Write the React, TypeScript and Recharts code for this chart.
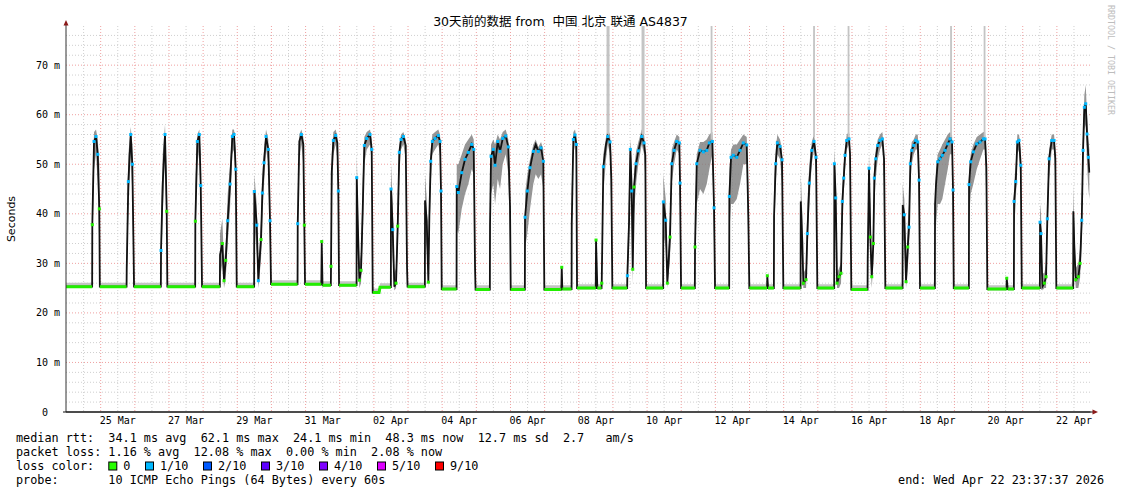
import { Area, CartesianGrid, ComposedChart, Line, Scatter, XAxis, YAxis } from "recharts";

const MONO = "'DejaVu Sans Mono', monospace";
const SANS = "'DejaVu Sans', 'Noto Sans CJK SC', sans-serif";

// x = days since 24 Mar 00:00; graph ends Wed Apr 22 23:37:37
const dayDomain: [number, number] = [-0.0155, 29.9845];

const labelDays = [1.5, 3.5, 5.5, 7.5, 9.5, 11.5, 13.5, 15.5, 17.5, 19.5, 21.5, 23.5, 25.5, 27.5, 29.5];
const dateLabels = [
  "25 Mar", "27 Mar", "29 Mar", "31 Mar", "02 Apr", "04 Apr", "06 Apr", "08 Apr",
  "10 Apr", "12 Apr", "14 Apr", "16 Apr", "18 Apr", "20 Apr", "22 Apr",
];
const rttTicks = [0, 10, 20, 30, 40, 50, 60, 70];

// quiet periods, 0 loss: [from, to, median, smoke low, smoke high] (ms)
const baselineSpans: [number, number, number, number, number][] = [
  [-0.0155, 0.75, 25.3, 25.0, 26.1], [0.975, 1.758, 25.3, 25.0, 26.1],
  [1.977, 2.762, 25.3, 25.0, 26.1], [2.952, 3.767, 25.3, 25.0, 26.1],
  [3.968, 4.49, 25.3, 25.0, 26.1], [4.984, 5.494, 25.3, 25.0, 26.1],
  [5.988, 6.765, 25.8, 25.5, 26.6], [6.984, 7.461, 25.8, 25.5, 26.6],
  [7.496, 7.74, 25.6, 25.3, 26.4], [7.98, 8.493, 25.6, 25.3, 26.4],
  [8.966, 9.151, 24.1, 23.8, 24.9], [9.18, 9.497, 25.2, 24.9, 26.0],
  [9.986, 10.493, 25.3, 25.0, 26.1], [10.987, 11.421, 24.8, 24.5, 25.6],
  [11.977, 12.396, 24.7, 24.4, 25.6], [13.007, 13.421, 24.7, 24.4, 25.6],
  [13.991, 14.489, 24.7, 24.4, 25.6], [14.518, 14.789, 24.8, 24.5, 25.6],
  [14.949, 15.497, 25.0, 24.7, 25.8], [15.543, 15.667, 25.0, 24.7, 25.8],
  [15.983, 16.417, 25.0, 24.7, 25.8], [16.97, 17.471, 25.0, 24.7, 25.8],
  [17.995, 18.399, 25.0, 24.7, 25.8], [18.99, 19.404, 25.0, 24.7, 25.8],
  [19.994, 20.513, 25.0, 24.7, 25.8], [20.542, 20.713, 25.0, 24.7, 25.8],
  [20.99, 21.495, 25.0, 24.7, 25.8], [21.986, 22.479, 25.0, 24.7, 25.8],
  [22.981, 23.456, 24.7, 24.4, 25.6], [23.977, 24.481, 25.0, 24.7, 25.8],
  [24.993, 25.427, 25.0, 24.7, 25.8], [25.98, 26.423, 25.0, 24.7, 25.8],
  [26.964, 27.526, 24.8, 24.5, 25.6], [27.561, 27.741, 24.8, 24.5, 25.6],
  [27.972, 28.502, 25.0, 24.7, 25.8], [28.984, 29.477, 25.0, 24.7, 25.8],
];

// busy periods: [day, median, smoke low, smoke high, loss mark (1 = 1/10, 0 = none, -1 = unmarked)]
const busySamples: [number, number, number, number, number][] = [
  [0.755, 37.8, 33, 44, 0], [0.805, 54.6, 49, 56.5, 1], [0.864, 55.6, 52, 57, 1], [0.914, 52, 46, 55, 1], [0.96, 41, 33, 50, 0],
  [1.763, 29, 27, 33, -1], [1.81, 46.5, 40, 52, 1], [1.88, 56, 52, 57.5, 1], [1.927, 50, 44, 54, 1], [1.962, 33, 28, 40, -1],
  [2.767, 32.6, 28, 40, 1], [2.817, 46, 40, 52, -1], [2.884, 56, 52, 58, 1], [2.934, 40.5, 34, 48, 0],
  [3.772, 38.5, 34, 46, 0], [3.83, 54.6, 50, 56, 1], [3.889, 56, 53, 57, 1], [3.93, 45.7, 40, 52, 1],
  [4.495, 31.7, 27, 36, -1], [4.562, 34, 30, 39, 0], [4.612, 26.5, 25, 30, 0], [4.662, 30.6, 27, 34, 0], [4.72, 38.6, 34, 44, 1],
  [4.788, 46, 41, 50, 1], [4.855, 55.6, 52, 57, 1], [4.905, 56, 53, 57, 1], [4.955, 49, 44, 53, 1],
  [5.499, 44.5, 38, 48, 1], [5.57, 37.7, 32, 42, 1], [5.616, 26.5, 25, 30, 1], [5.646, 30, 27, 33, -1], [5.696, 34.8, 31, 39, 0],
  [5.734, 44.2, 39, 48, 1], [5.783, 50.3, 46, 53, 1], [5.842, 55.6, 53, 57, 1], [5.909, 53, 50, 55, 1], [5.959, 38.6, 33, 45, 1],
  [6.77, 38, 34, 44, 1], [6.817, 54.6, 51, 56, -1], [6.876, 56, 54, 57, 1], [6.934, 54, 50, 55.5, -1], [6.963, 37.7, 32, 44, 0],
  [7.473, 34.4, 29, 37, 0],
  [7.745, 29.4, 27, 33, 0], [7.766, 48.4, 42, 52, -1], [7.813, 54.8, 52, 56.5, 1], [7.883, 55.8, 54, 57, 1], [7.93, 54.3, 51, 55.5, -1], [7.959, 44.6, 38, 50, 1],
  [8.498, 47.3, 40, 52, 1], [8.527, 38.6, 33, 44, -1], [8.574, 26.6, 25, 30, 0], [8.624, 28.6, 26, 32, 0], [8.674, 41, 35, 47, -1],
  [8.72, 53.8, 50, 55.5, 1], [8.791, 55.2, 53, 56.5, 1], [8.887, 56, 54, 57, 1], [8.937, 53, 50, 55, 1],
  [9.502, 45, 38, 50, 1], [9.552, 36.8, 31, 42, 1], [9.599, 25.3, 24.5, 28, -1], [9.649, 26, 25, 29, 0], [9.698, 37.5, 33, 44, 0],
  [9.745, 52.4, 48, 54, 1], [9.795, 55, 53, 56, 1], [9.863, 55.6, 54, 56.5, 1], [9.933, 53.8, 51, 55, -1], [9.971, 29.2, 26, 33, -1],
  [10.498, 42.7, 36, 48, -1], [10.548, 38.6, 33, 43, -1], [10.595, 26.2, 25, 29, 0], [10.624, 39.3, 34, 45, -1], [10.665, 50.6, 46, 53, 1],
  [10.712, 54.6, 52, 56, 1], [10.791, 55.2, 53, 56.5, 1], [10.887, 55.8, 54, 57, 1], [10.937, 54.6, 52, 56, 1], [10.966, 44.6, 38, 50, 1],
  [11.426, 45.5, 37, 50, 1], [11.473, 44.3, 36, 50, 1], [11.573, 48.3, 41, 52, 1], [11.669, 51, 44, 54, 1], [11.766, 52.4, 46, 55, 1],
  [11.866, 54, 49, 56, 1], [11.924, 53, 48, 55, 1], [11.962, 29.3, 26, 40, -1],
  [12.401, 37.8, 32, 45, -1], [12.431, 51.6, 44, 54, 1], [12.498, 53, 46, 55, 1], [12.548, 49.8, 42, 54, 1], [12.627, 54.6, 47, 56, 1],
  [12.694, 52.6, 45, 55, 1], [12.773, 55.2, 50, 56.5, 1], [12.861, 55.7, 52, 57, 1], [12.937, 53.5, 48, 55, 1], [12.987, 41.5, 34, 48, -1],
  [13.426, 39.3, 33, 44, 1], [13.494, 44.6, 36, 48, 1], [13.573, 49.3, 41, 51, 1], [13.669, 52.6, 46, 54, 1], [13.739, 54, 48, 55, -1],
  [13.816, 52.6, 47, 53.5, 1], [13.895, 53.3, 48, 54.5, 1], [13.962, 50.6, 45, 53, 1],
  [14.501, 29.2, 25, 31, 0],
  [14.794, 38, 33, 45, -1], [14.841, 55, 52, 56.5, 1], [14.89, 55.9, 54, 57, 1], [14.928, 54, 50, 55.5, 1],
  [15.505, 34.7, 28, 37, 0],
  [15.672, 26, 25, 28, 0], [15.719, 49.5, 44, 52, 1], [15.798, 54, 51, 55.5, -1], [15.848, 55.6, 54, 57, 1], [15.915, 54.5, 52, 56, 1], [15.953, 47, 40, 52, -1],
  [16.422, 27.5, 25, 30, 1], [16.472, 38.3, 33, 46, -1], [16.51, 53, 46, 55, 1], [16.551, 44.6, 38, 50, 1], [16.58, 28.8, 26, 33, 0],
  [16.618, 45.4, 40, 49, 0], [16.677, 50.1, 46, 52.5, 1], [16.744, 52.7, 50, 54.5, 1], [16.844, 55.6, 54, 57, 1], [16.911, 54.3, 52, 56, 1], [16.949, 51.8, 47, 54, -1],
  [17.476, 42.4, 36, 48, 1], [17.546, 38.7, 33, 43, 1], [17.593, 26, 25, 29, 0], [17.672, 35.3, 31, 40, 0], [17.722, 50.1, 46, 53, 1],
  [17.79, 52.8, 50, 54.5, 1], [17.869, 54.6, 53, 56, 1], [17.945, 54.3, 52, 55.5, 1], [17.965, 46.2, 40, 52, 1],
  [18.404, 33.3, 29, 40, 0], [18.454, 50.1, 42, 52, 1], [18.551, 52.8, 45, 54.5, 1], [18.648, 52.5, 44, 54.5, 1], [18.747, 52.8, 46, 55, 1],
  [18.823, 54.3, 49, 56, 1], [18.911, 54.6, 52, 56.5, 1], [18.961, 41.2, 34, 48, 1],
  [19.409, 43.5, 36, 49, 1], [19.459, 51.4, 42, 53, 1], [19.526, 51.8, 42, 54, 1], [19.626, 51.4, 43, 54, 1], [19.722, 52.8, 46, 55, 1],
  [19.819, 54.3, 50, 56, 1], [19.918, 53.9, 50, 55.5, 1], [19.965, 39.5, 32, 46, -1],
  [20.521, 27.5, 25, 29, 0],
  [20.718, 39.5, 34, 46, -1], [20.767, 50.1, 46, 53, 1], [20.814, 54.3, 52, 56, 1], [20.893, 53.6, 51, 55, 1], [20.952, 50.9, 46, 53, 1],
  [21.5, 42.5, 35, 48, -1], [21.546, 34.3, 30, 40, -1], [21.576, 26, 25, 28, 0], [21.655, 26.7, 25, 29, 0], [21.693, 36, 31, 42, 1],
  [21.751, 46.2, 42, 50, 1], [21.822, 52.8, 50, 54.5, 1], [21.889, 54.6, 53, 56, 1], [21.948, 51.4, 48, 53, 1],
  [22.484, 50.1, 42, 53, 1], [22.524, 43.2, 36, 48, 1], [22.563, 26, 25, 28, 0], [22.621, 27.3, 25, 29, 0], [22.679, 28, 26, 30, 0],
  [22.718, 42.5, 37, 46, 1], [22.759, 47.2, 44, 50, 1], [22.797, 51.8, 49, 53, 1], [22.846, 54.8, 53, 56, 1], [22.914, 55.1, 54, 56.5, 1], [22.943, 52.1, 48, 54, -1],
  [23.461, 31, 27, 37, -1], [23.499, 49.2, 42, 52, 1], [23.538, 35.3, 31, 42, 0], [23.579, 27.3, 25, 30, 0], [23.626, 34, 30, 38, 0],
  [23.655, 47.2, 42, 50, 1], [23.696, 51.1, 47, 53, 1], [23.754, 53.8, 51, 55, 1], [23.822, 54.8, 53, 56, 1], [23.889, 55.1, 54, 56.5, 1], [23.939, 51.1, 46, 53, -1],
  [24.486, 41.8, 35, 46, -1], [24.533, 39.8, 34, 43, 1], [24.583, 26.3, 25, 29, 0], [24.633, 33.3, 29, 38, 0], [24.671, 37.3, 33, 42, 1],
  [24.709, 50.1, 46, 52, 1], [24.75, 52.8, 50, 54.5, 1], [24.809, 53.8, 52, 55, 1], [24.867, 54.8, 53, 56, 1], [24.926, 54.5, 53, 56, 1], [24.964, 46.8, 40, 52, 1],
  [25.432, 41.8, 36, 45, -1], [25.461, 45.9, 38, 49, -1], [25.511, 50.5, 42, 52, 1], [25.579, 51.1, 42, 53, 1], [25.646, 51.8, 43, 54, 1],
  [25.725, 52.8, 46, 55, 1], [25.804, 54.1, 49, 56, 1], [25.871, 55.1, 52, 56.5, 1], [25.93, 54.5, 52, 56, 1], [25.959, 44.8, 38, 50, 1],
  [26.428, 45.9, 39, 49, 1], [26.477, 50.5, 44, 52, 1], [26.554, 52.5, 46, 54, 1], [26.653, 54.1, 49, 55.5, 1], [26.75, 54.5, 51, 56, 1],
  [26.847, 55.1, 53, 56.5, 1], [26.897, 55.1, 53, 56.5, 1], [26.935, 49.4, 42, 53, -1],
  [27.532, 27, 25, 29, 0],
  [27.746, 42.5, 37, 46, 1], [27.796, 46.5, 42, 50, 1], [27.842, 54.5, 52, 56, 1], [27.892, 54.8, 53, 56, 1], [27.943, 49.8, 44, 53, 1],
  [28.507, 38.3, 33, 42, 1], [28.536, 36, 31, 40, 1], [28.575, 25.3, 24.5, 28, -1], [28.633, 26, 25, 28, 0], [28.683, 27.3, 25, 30, 0],
  [28.721, 39, 34, 43, 1], [28.771, 51.1, 47, 53, 1], [28.85, 54.8, 53, 56, 1], [28.917, 54.8, 53, 56, 1], [28.955, 51.1, 47, 53, -1],
  [29.482, 40.5, 34, 46, -1], [29.512, 33.1, 29, 38, -1], [29.553, 26.7, 25, 29, 0], [29.629, 27.3, 25, 30, 0], [29.679, 30, 27, 33, 0],
  [29.728, 38.7, 34, 43, 1], [29.766, 52.8, 48, 56, 1], [29.804, 61.5, 57, 64, 1], [29.845, 62.2, 58, 66, 1], [29.883, 56.1, 50, 60, 1],
  [29.922, 51.4, 45, 55, 1], [29.951, 48.3, 43, 53, -1],
];

// single slow pings that run off the top: [day, from, to]
const outlierSpikes: [number, number, number][] = [
  [15.857, 56, 80], [16.882, 56, 80], [18.888, 55, 80], [21.889, 55.5, 80],
  [22.899, 55.5, 80], [25.901, 55.5, 80], [26.882, 55.5, 80],
];

const lossLegend = [
  { label: "0", color: "#26ff00" },
  { label: "1/10", color: "#00b8ff" },
  { label: "2/10", color: "#0059ff" },
  { label: "3/10", color: "#5e00ff" },
  { label: "4/10", color: "#7e00ff" },
  { label: "5/10", color: "#dd00ff" },
  { label: "9/10", color: "#ff0000" },
];

type Band = [number, number] | null;
type Row = { d: number; median: number; calm: Band; busy: Band; zero: number | null };

const rows: Row[] = [
  ...baselineSpans.flatMap(([a, b, v, lo, hi]) => [
    { d: a, median: v, calm: [lo, hi] as Band, busy: null, zero: v },
    { d: b, median: v, calm: [lo, hi] as Band, busy: null, zero: v },
  ]),
  ...busySamples.map(([d, v, lo, hi]) => ({ d, median: v, calm: null, busy: [lo, hi] as Band, zero: null })),
].sort((p, q) => p.d - q.d);

const blueDots = busySamples.filter((s) => s[4] === 1).map(([d, median]) => ({ d, median }));
const greenDots = busySamples.filter((s) => s[4] === 0).map(([d, median]) => ({ d, median }));

const majorX = Array.from({ length: 29 }, (_, i) => i + 1);
const minorX = Array.from({ length: 30 }, (_, i) => i + 0.5);
const majorY = [10, 20, 30, 40, 50, 60, 70];
const minorY = Array.from({ length: 38 }, (_, i) => (i + 1) * 2).filter((v) => v % 10 !== 0);

function DateTick(props: any) {
  const { x, y, payload } = props;
  const i = labelDays.indexOf(payload.value);
  return (
    <text x={x} y={y} dy="0.71em" textAnchor="middle" fontSize={10} fontFamily={MONO} fill="#000">
      {dateLabels[i]}
    </text>
  );
}

function RttTick(props: any) {
  const { x, y, payload } = props;
  const label = payload.value === 0 ? "0  " : `${payload.value} m`;
  return (
    <text x={x} y={y} dy="0.35em" textAnchor="end" fontSize={10} fontFamily={MONO} fill="#000" style={{ whiteSpace: "pre" }}>
      {label}
    </text>
  );
}

const square = (color: string) => (p: any) => (
  <rect x={p.cx - 1.5} y={p.cy - 1.5} width={3} height={3} fill={color} />
);

const CH = 7.1;
const legendRows = [
  "median rtt:  34.1 ms avg  62.1 ms max  24.1 ms min  48.3 ms now  12.7 ms sd  2.7   am/s",
  "packet loss: 1.16 % avg  12.08 % max  0.00 % min  2.08 % now",
  "loss color:",
  "probe:       10 ICMP Echo Pings (64 Bytes) every 60s",
];

function Decorations() {
  let bx = 16 + 13 * CH;
  const boxes = lossLegend.map((item) => {
    const x = bx;
    bx = x + 15 + item.label.length * CH + 14.6;
    return (
      <g key={item.label}>
        <rect x={x + 0.5} y={462} width={8} height={8} fill={item.color} stroke="#000" strokeWidth={1} />
        <text x={x + 15} y={470} fontFamily={MONO} fontSize={11.8}>{item.label}</text>
      </g>
    );
  });
  return (
    <svg width={1121} height={494} style={{ position: "absolute", left: 0, top: 0, pointerEvents: "none" }}>
      <text x={560.5} y={25.5} textAnchor="middle" fontFamily={SANS} fontSize={12.5} fill="#000" style={{ whiteSpace: "pre" }}>
        30天前的数据 from  中国 北京 联通 AS4837
      </text>
      <text transform="translate(15,219) rotate(-90)" textAnchor="middle" fontFamily={SANS} fontSize={11} fill="#000">
        Seconds
      </text>
      <text transform="translate(1108,5) rotate(90)" fontFamily={MONO} fontSize={8.3} fill="#bdbdbd">
        RRDTOOL / TOBI OETIKER
      </text>
      <line x1={66} y1={26} x2={66} y2={23} stroke="#333" />
      <polygon points="66,20 63.5,25.5 68.5,25.5" fill="#8b1a1a" />
      <line x1={63} y1={412} x2={1094} y2={412} stroke="#111" />
      <polygon points="1098,412 1092.5,409.5 1092.5,414.5" fill="#8b1a1a" />
      {legendRows.map((t, i) => (
        <text key={i} x={16} y={442 + i * 14} fontFamily={MONO} fontSize={11.8} fill="#000" style={{ whiteSpace: "pre" }}>
          {t}
        </text>
      ))}
      {boxes}
      <text x={1104} y={484} textAnchor="end" fontFamily={MONO} fontSize={11.8} fill="#000">
        end: Wed Apr 22 23:37:37 2026
      </text>
    </svg>
  );
}

export default function App() {
  return (
    <div style={{ position: "absolute", left: 0, top: 0, width: 1121, height: 494, background: "#fff" }}>
      <ComposedChart width={1121} height={494} data={rows} margin={{ top: 26, right: 30.5, bottom: 62, left: 0 }}>
        <CartesianGrid horizontalValues={minorY} verticalValues={minorX} stroke="#cfcfcf" strokeDasharray="1 2" />
        <CartesianGrid horizontalValues={majorY} verticalValues={majorX} stroke="#efa0a0" strokeDasharray="1 2" />
        <XAxis
          dataKey="d"
          type="number"
          domain={dayDomain}
          allowDataOverflow
          ticks={labelDays}
          interval={0}
          tick={DateTick}
          tickLine={false}
          tickSize={4}
          tickMargin={1}
          height={20}
          axisLine={{ stroke: "#111" }}
        />
        <YAxis
          type="number"
          domain={[0, 77.9]}
          allowDataOverflow
          ticks={rttTicks}
          interval={0}
          tick={RttTick}
          tickLine={false}
          tickSize={6}
          tickMargin={0}
          width={66}
          axisLine={{ stroke: "#333" }}
        />
        <Area type="linear" dataKey="calm" stroke="none" fill="#c4c4c4" fillOpacity={1} connectNulls={false} isAnimationActive={false} />
        <Area type="linear" dataKey="busy" stroke="none" fill="#7c7c7c" fillOpacity={0.8} connectNulls={false} isAnimationActive={false} />
        {outlierSpikes.map(([d, lo, hi], i) => (
          <Line
            key={d}
            data={[{ d, v: lo }, { d, v: hi }]}
            dataKey="v"
            stroke="#c4c4c4"
            strokeWidth={i < 2 ? 3 : 1.8}
            dot={false}
            isAnimationActive={false}
          />
        ))}
        <Line type="linear" dataKey="median" stroke="#111" strokeWidth={1.8} dot={false} isAnimationActive={false} />
        <Line type="linear" dataKey="zero" stroke="#22ee00" strokeWidth={3} dot={false} connectNulls={false} isAnimationActive={false} />
        <Scatter data={greenDots} dataKey="median" shape={square("#22ee00")} isAnimationActive={false} />
        <Scatter data={blueDots} dataKey="median" shape={square("#00b8ff")} isAnimationActive={false} />
      </ComposedChart>
      <Decorations />
    </div>
  );
}
